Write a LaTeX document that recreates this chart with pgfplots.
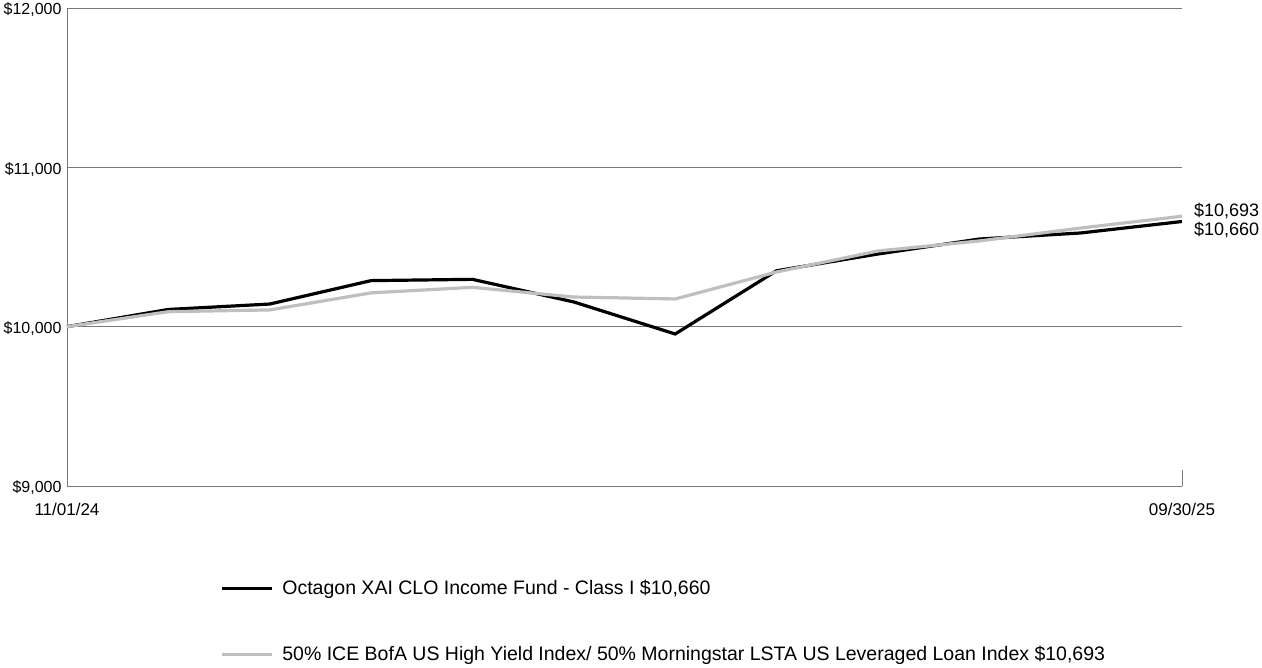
\documentclass[border=0pt]{standalone}
\usepackage{fontspec}
\setmainfont{Liberation Sans}
\usepackage{pgfplots}
\pgfplotsset{compat=1.18}
\definecolor{serGray}{RGB}{191,191,191}
\definecolor{axGray}{RGB}{120,120,120}
\begin{document}
\begin{tikzpicture}
\useasboundingbox (0,0) rectangle (1262bp,668bp);
\begin{axis}[
  at={(67bp,182bp)}, anchor=south west,
  scale only axis, width=1115bp, height=478bp,
  xmin=0, xmax=11, ymin=9000, ymax=12000,
  axis x line*=bottom, axis y line*=left,
  axis line style={axGray, line width=0.9bp},
  xtick={0,11}, xticklabels={11/01/24,09/30/25},
  ytick={9000,10000,11000,12000},
  yticklabels={{\$9,000},{\$10,000},{\$11,000},{\$12,000}},
  major tick length=0pt,
  ymajorgrids, grid style={axGray, line width=0.8bp},
  tick label style={text=black},
  yticklabel style={anchor=east, xshift=-2bp, yshift=-2bp, font=\fontsize{16bp}{19bp}\selectfont},
  xticklabel style={anchor=north, yshift=-14bp, font=\fontsize{17bp}{20bp}\selectfont},
  clip=false,
  legend cell align=left,
  legend image code/.code={\draw[#1, line width=3.2bp] (0bp,0bp) -- (50bp,0bp);},
  legend style={at={([xshift=-2bp,yshift=1bp]0.139,-0.195)}, anchor=north west, draw=none, fill=none,
    font=\fontsize{19.5bp}{22bp}\selectfont, row sep=46bp, column sep=7bp,
    inner sep=0pt},
]
\addplot[black, line width=3.2bp] coordinates {
(0,10000) (1,10108) (2,10142) (3,10289) (4,10297) (5,10155)
(6,9954) (7,10351) (8,10456) (9,10550) (10,10588) (11,10660)};
\addlegendentry{Octagon XAI CLO Income Fund - Class I \$10,660}
\addplot[serGray, line width=3.2bp] coordinates {
(0,10000) (1,10094) (2,10105) (3,10212) (4,10247) (5,10186)
(6,10174) (7,10343) (8,10475) (9,10538) (10,10619) (11,10693)};
\addlegendentry{50\% ICE BofA US High Yield Index/ 50\% Morningstar LSTA US Leveraged Loan Index \$10,693}
\draw[axGray, line width=0.9bp] (axis cs:11,9000) -- (axis cs:11,9100);
\node[anchor=west, font=\fontsize{18bp}{21bp}\selectfont, inner sep=0pt] at ([xshift=12bp,yshift=5bp]axis cs:11,10693) {\$10,693};
\node[anchor=west, font=\fontsize{18bp}{21bp}\selectfont, inner sep=0pt] at ([xshift=12bp,yshift=-8bp]axis cs:11,10660) {\$10,660};
\end{axis}
\end{tikzpicture}
\end{document}
